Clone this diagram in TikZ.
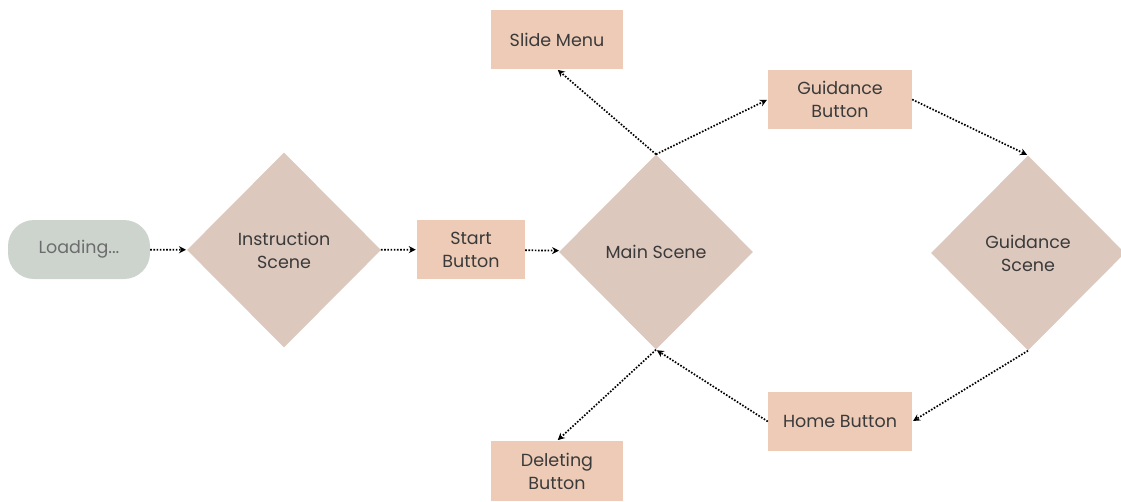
\documentclass[tikz,border=0pt]{standalone}
\usepackage{fontspec}
\setmainfont{Poppins}
\usetikzlibrary{shapes.geometric,arrows.meta}
\definecolor{btnfill}{HTML}{EDCBB6}
\definecolor{scenefill}{HTML}{DDC8BE}
\definecolor{loadfill}{HTML}{CDD4CE}
\definecolor{txtgray}{HTML}{3A3A3A}

\begin{document}
\begin{tikzpicture}
		[x=1pt, y=-1pt,
		 font=\fontsize{17.5}{23}\selectfont, text=txtgray,
		 btn/.style = {rectangle, fill=btnfill, align=center, inner sep=0pt},
		 scene/.style = {diamond, fill=scenefill, align=center, inner sep=0pt,
			minimum width=194pt, minimum height=195pt},
		 flow/.style = {line width=1.7pt, dash pattern=on 1.6pt off 1.6pt,
			-{Stealth[length=7pt, width=7pt]}, shorten >=1pt}]
		\useasboundingbox (0,0) rectangle (1121,501);
		\node[rounded corners=26pt, fill=loadfill, text=gray!85!black,
			minimum width=142pt, minimum height=59pt] (load) at (79,249.5) {Loading...};
		\node[scene] (instr) at (284,250) {Instruction\\Scene};
		\node[btn, minimum width=108pt, minimum height=59pt] (start) at (471,249.5) {Start\\Button};
		\node[scene] (main) at (656,252) {Main Scene};
		\node[btn, minimum width=132pt, minimum height=59pt] (slide) at (557,39.5) {Slide Menu};
		\node[btn, minimum width=144pt, minimum height=59pt] (guide) at (840,99.5) {Guidance\\Button};
		\node[scene] (gscene) at (1028,253) {Guidance\\Scene};
		\node[btn, minimum width=144pt, minimum height=59pt] (home) at (840,421.5) {Home Button};
		\node[btn, minimum width=132pt, minimum height=60pt] (del) at (557,471) {Deleting\\Button};

		\draw[flow] (load) -- (instr);
		\draw[flow] (instr) -- (start);
		\draw[flow] (start) -- (main);
		\draw[flow] (main.north) -- (slide.south);
		\draw[flow] (main.north) -- (guide.west);
		\draw[flow] (guide.east) -- (gscene.north);
		\draw[flow] (gscene.south) -- (home.east);
		\draw[flow] (home.west) -- (main.south);
		\draw[flow] (main.south) -- (del.north);
	\end{tikzpicture}
\end{document}
